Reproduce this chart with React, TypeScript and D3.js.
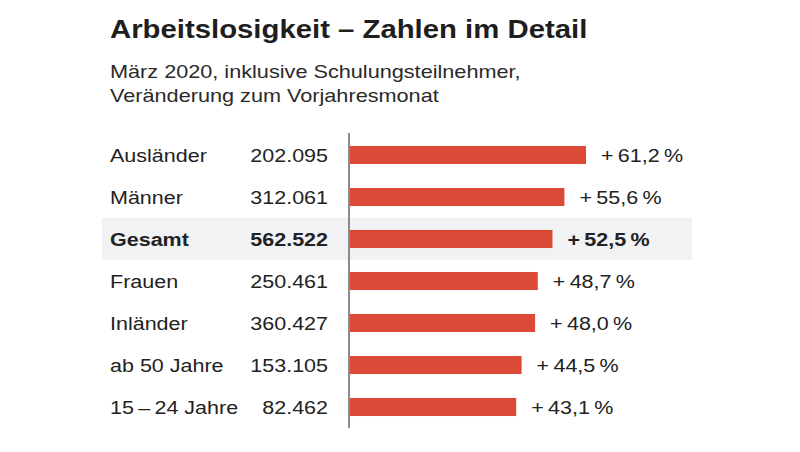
import React from "react";
import * as d3 from "d3";

const categories = ["Ausländer", "Männer", "Gesamt", "Frauen", "Inländer", "ab 50 Jahre", "15\u2009–\u200924 Jahre"];
const counts = ["202.095", "312.061", "562.522", "250.461", "360.427", "153.105", "82.462"];
const changes = [61.2, 55.6, 52.5, 48.7, 48.0, 44.5, 43.1];
const highlight = "Gesamt";

const title = "Arbeitslosigkeit – Zahlen im Detail";
const subtitle1 = "März 2020, inklusive Schulungsteilnehmer,";
const subtitle2 = "Veränderung zum Vorjahresmonat";

const W = 800;
const H = 452;
const FONT = "'Liberation Sans', Arial, Helvetica, sans-serif";
const SX = 1.15;

function T(props: { x: number; y: number; size: number; bold?: boolean; anchor?: string; dy?: string; fill?: string; children: React.ReactNode }) {
  const { x, y, size, bold, anchor, dy, fill, children } = props;
  return (
    <text
      transform={`translate(${x},${y}) scale(${SX},1)`}
      dy={dy}
      fontSize={size}
      fontWeight={bold ? "bold" : "normal"}
      textAnchor={anchor || "start"}
      fill={fill || "#222"}
    >
      {children}
    </text>
  );
}

export default function App() {
  const x = d3.scaleLinear().domain([0, 61.2]).range([350, 586]);
  const y = d3.scaleBand<string>().domain(categories).range([134, 428]).paddingInner(0.57).paddingOuter(0.285);
  const rowStep = y.step();
  const fmt = (v: number) => "+\u2009" + v.toFixed(1).replace(".", ",") + "\u2009%";

  return (
    <svg width={W} height={H} style={{ position: "absolute", left: 0, top: 0, background: "#fff" }} fontFamily={FONT}>
      <rect x={0} y={0} width={W} height={H} fill="#fff" />
      <T x={110} y={38} size={25.5} bold fill="#1e1e1e">{title}</T>
      <T x={110} y={78} size={18.85} fill="#2a2a2a">{subtitle1}</T>
      <T x={110} y={102} size={18.85} fill="#2a2a2a">{subtitle2}</T>

      {categories.map((c, i) => {
        const cy = (y(c) as number) + y.bandwidth() / 2;
        const hl = c === highlight;
        return (
          <g key={c}>
            {hl && (
              <rect x={102} y={cy - rowStep / 2} width={590} height={rowStep} fill="#f1f2f4" />
            )}
            <T x={110} y={cy} dy="0.36em" size={18.7} bold={hl}>{c}</T>
            <T x={328} y={cy} dy="0.36em" size={18.7} bold={hl} anchor="end">{counts[i]}</T>
            <rect x={x(0)} y={y(c)} width={x(changes[i]) - x(0)} height={y.bandwidth()} fill="#db4a37" />
            <T x={x(changes[i]) + 15} y={cy} dy="0.36em" size={18.7} bold={hl}>{fmt(changes[i])}</T>
          </g>
        );
      })}
      <line x1={349} x2={349} y1={133} y2={428} stroke="#6f6f6f" strokeWidth={1.6} />
    </svg>
  );
}
